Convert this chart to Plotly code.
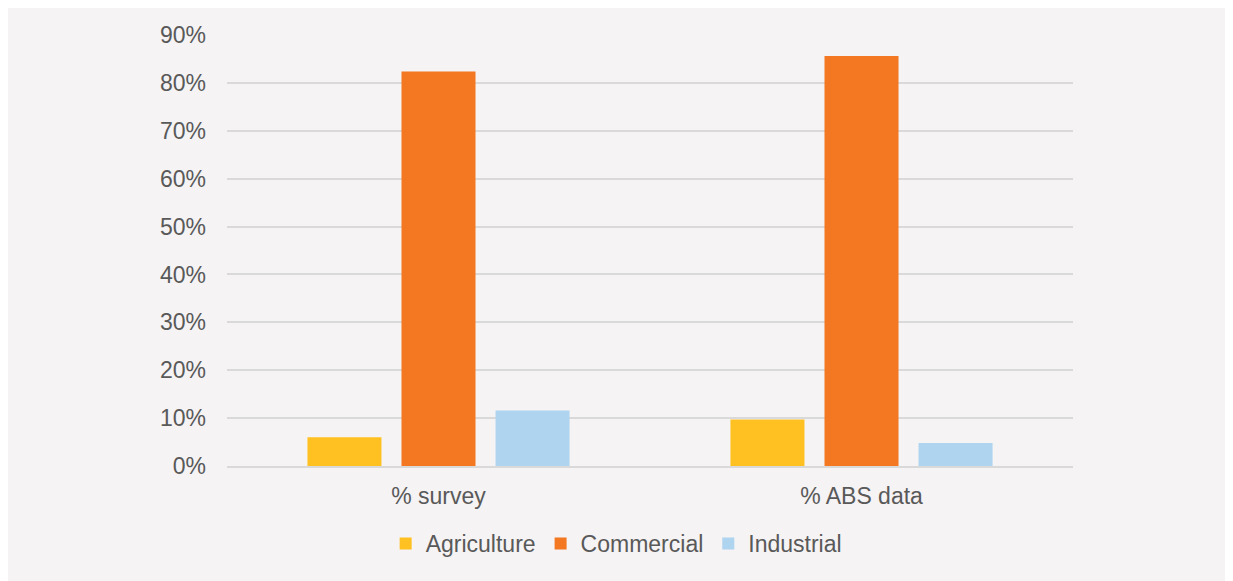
import plotly.graph_objects as go

categories = ["% survey", "% ABS data"]
series_names = ["Agriculture", "Commercial", "Industrial"]
agriculture = [0.060, 0.097]
commercial = [0.824, 0.856]
industrial = [0.116, 0.048]
colors = ["#FFC021", "#F47721", "#AED4F0"]
tick_vals = [i / 10 for i in range(10)]

fig = go.Figure()
for name, vals, col in zip(series_names, [agriculture, commercial, industrial], colors):
    fig.add_trace(go.Bar(x=categories, y=vals, name=name, marker=dict(color=col, line=dict(width=0))))

# page has an 8px body margin; compensate
OFF = 8
W, H = 1233 - OFF, 581 - OFF
L, R, T, B = 227 - OFF, 160, 35 - OFF, 114.5

fig.update_layout(
    width=W, height=H,
    margin=dict(l=L, r=R, t=T, b=B, pad=0),
    paper_bgcolor="#F5F3F4",
    plot_bgcolor="rgba(0,0,0,0)",
    barmode="group",
    bargap=0.333,
    bargroupgap=0.213,
    font=dict(family="Liberation Sans, Arial, sans-serif", size=23, color="#595959"),
    showlegend=True,
    legend=dict(orientation="h", x=0.46, xanchor="center", y=-0.13, yanchor="top",
                font=dict(size=23, color="#595959"), bgcolor="rgba(0,0,0,0)",
                itemwidth=30, tracegroupgap=0),
    xaxis=dict(showgrid=False, showline=True, linecolor="#D9D9D9", linewidth=2,
               ticks="", ticklabelstandoff=8, tickfont=dict(size=23, color="#595959")),
    yaxis=dict(range=[0, 0.9], tickvals=tick_vals + [0.9], tickformat=".0%",
               showgrid=True, gridcolor="#D9D9D9", gridwidth=1.5, zeroline=False,
               ticks="", ticklabelstandoff=20, tickfont=dict(size=23, color="#595959")),
)

fig.write_html("out.html")
